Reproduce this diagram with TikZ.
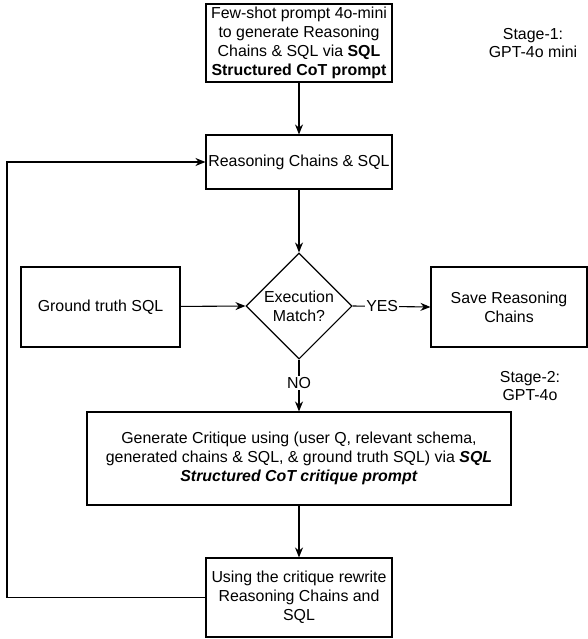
\documentclass[tikz,border=0pt]{standalone}
\usepackage{fontspec}
\setmainfont{Liberation Sans}
\usetikzlibrary{shapes.geometric,arrows.meta}
\begin{document}
\begin{tikzpicture}[x=1pt,y=-1pt,
  every node/.style={font=\fontsize{15.9}{18.8}\selectfont},
  box/.style={draw, line width=1.1pt, align=center, inner sep=0pt},
  arr/.style={-{Stealth[length=10pt,width=8pt]}, line width=1.1pt},
  lab/.style={fill=white, inner sep=1pt}]
\useasboundingbox (0,0) rectangle (588,639);
\node[box, minimum width=186pt, minimum height=78pt] (top) at (299,43)
  {Few-shot prompt 4o-mini\\to generate Reasoning\\Chains \& SQL via \textbf{SQL}\\\textbf{Structured CoT prompt}};
\node[box, minimum width=186pt, minimum height=54pt] (rc) at (299,162) {Reasoning Chains \& SQL};
\node[draw, diamond, line width=1.1pt, minimum width=106pt, minimum height=106pt, inner sep=0pt] (dec) at (299,306) {};
\node[align=center] (dectext) at (299,306) {Execution\\Match?};
\node[box, minimum width=159pt, minimum height=80pt] (gt) at (100.5,307) {Ground truth SQL};
\node[box, minimum width=156pt, minimum height=80pt] (save) at (509,307) {Save Reasoning\\Chains};
\node[box, minimum width=424pt, minimum height=93pt] (crit) at (299,458.5)
  {Generate Critique using (user Q, relevant schema,\\generated chains \& SQL, \& ground truth SQL) via \textbf{\textit{SQL}}\\\textbf{\textit{Structured CoT critique prompt}}};
\node[box, minimum width=186pt, minimum height=79pt] (rw) at (299,597.5)
  {Using the critique rewrite\\Reasoning Chains and\\SQL};
\node[align=center] (s1) at (533,43) {Stage-1:\\GPT-4o mini};
\node[align=center] (s2) at (530,386) {Stage-2:\\GPT-4o};
\coordinate (loop) at (7,597.5);
\draw[arr] (top) -- (rc);
\draw[arr] (rc) -- (dec.north);
\draw[arr] (gt) -- (dec.west);
\draw[arr] (dec.east) -- node[lab, pos=0.38] {YES} (save.west);
\draw[arr] (dec.south) -- node[lab, pos=0.45] {NO} (crit.north);
\draw[arr] (crit) -- (rw);
\draw[arr] (rw.west) -- (loop) |- (rc.west);
\end{tikzpicture}
\end{document}
